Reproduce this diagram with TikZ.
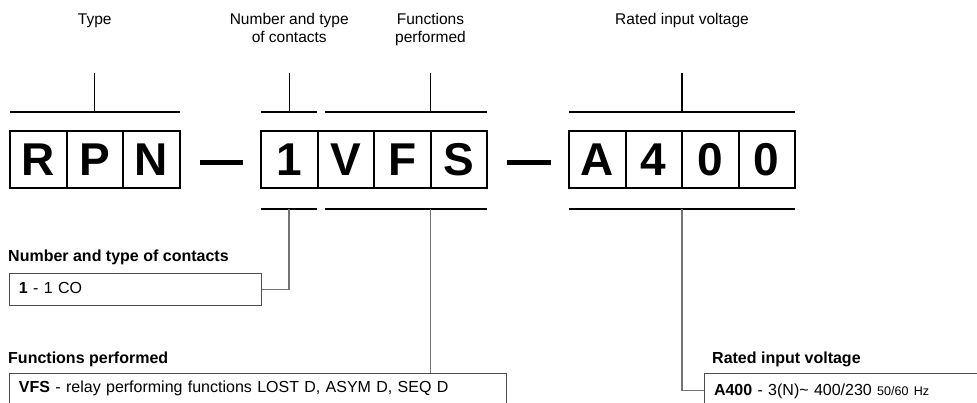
\documentclass[tikz,border=0pt]{standalone}
\usepackage{fontspec}
\setmainfont{Liberation Sans}
\begin{document}
\begin{tikzpicture}[x=1pt,y=-1pt,
  cell/.style={draw, line width=2pt, minimum width=56.5pt, minimum height=57pt, inner sep=0pt,
    font=\fontsize{46}{46}\selectfont\bfseries},
  toplbl/.style={font=\fontsize{15.5}{18}\selectfont, align=center, inner sep=0pt, anchor=base},
  hdr/.style={font=\fontsize{16}{19}\selectfont\bfseries, anchor=base west, inner sep=0pt},
  tbox/.style={draw=black!70, line width=1pt, anchor=north west, inner xsep=9.5pt, inner ysep=0pt,
    align=left, font=\fontsize{16}{19}\selectfont},
  thinline/.style={line width=1.3pt},
  thickline/.style={line width=2.2pt},
  dashline/.style={line width=5pt},
  conn/.style={draw=black!55, line width=1.6pt}]
\clip (0,0) rectangle (977,403);

% letter cells
\node[cell] (R) at (38.25,159.5) {R};
\node[cell] (P) at (94.75,159.5) {P};
\node[cell] (N) at (151.25,159.5) {N};
\node[cell] (c1) at (289.25,159.5) {1};
\node[cell] (V) at (345.75,159.5) {V};
\node[cell] (F) at (402.25,159.5) {F};
\node[cell] (S) at (458.75,159.5) {S};
\node[cell] (A) at (597.25,159.5) {A};
\node[cell] (c4) at (653.75,159.5) {4};
\node[cell] (c0a) at (710.25,159.5) {0};
\node[cell] (c0b) at (766.75,159.5) {0};

% dashes
\coordinate (d1a) at (200,163); \coordinate (d1b) at (243,163);
\coordinate (d2a) at (507,163); \coordinate (d2b) at (551,163);
\draw[dashline] (d1a) -- (d1b);
\draw[dashline] (d2a) -- (d2b);

% top labels
\node[toplbl] (lType) at (94.75,25) {Type};
\node[toplbl] (lNum) at (289.25,43) {Number and type\\of contacts};
\node[toplbl] (lFun) at (430.5,43) {Functions\\performed};
\node[toplbl] (lRat) at (682,25) {Rated input voltage};

% top brackets
\coordinate (tRa) at (10,112);   \coordinate (tRb) at (179.5,112);
\coordinate (t1a) at (261,112);  \coordinate (t1b) at (317,112);
\coordinate (tVa) at (325,112);  \coordinate (tVb) at (487,112);
\coordinate (tAa) at (569,112);  \coordinate (tAb) at (795,112);
\coordinate (kR) at (94.75,112); \coordinate (kRt) at (94.75,73);
\coordinate (k1) at (289.25,112); \coordinate (k1t) at (289.25,73);
\coordinate (kV) at (430.5,112); \coordinate (kVt) at (430.5,73);
\coordinate (kA) at (682,112); \coordinate (kAt) at (682,73);
\draw[thinline] (tRa) -- (tRb);
\draw[thinline] (t1a) -- (t1b);
\draw[thinline] (tVa) -- (tVb);
\draw[thinline] (tAa) -- (tAb);
\draw[thinline] (kR) -- (kRt);
\draw[thinline] (k1) -- (k1t);
\draw[thinline] (kV) -- (kVt);
\draw[thinline] (kA) -- (kAt);

% bottom brackets
\coordinate (b1a) at (261,209);  \coordinate (b1b) at (317,209);
\coordinate (bVa) at (325,209);  \coordinate (bVb) at (487,209);
\coordinate (bAa) at (569,209);  \coordinate (bAb) at (795,209);
\coordinate (m1) at (289.25,209);
\coordinate (mV) at (430.5,209);
\coordinate (mA) at (682,209);
\draw[thickline] (b1a) -- (b1b);
\draw[thickline] (bVa) -- (bVb);
\draw[thickline] (bAa) -- (bAb);

% headers
\node[hdr] (h1) at (8,262) {Number and type of contacts};
\node[hdr] (h2) at (8,363) {Functions performed};
\node[hdr] (h3) at (712,363) {Rated input voltage};

% text boxes
\node[tbox, text width=233pt, text height=20pt, text depth=12pt] (bx1) at (9,273) {\textbf{1} - 1 CO};
\node[tbox, text width=478pt, text height=19pt, text depth=13pt] (bx2) at (9,373)
  {\textbf{VFS} - relay performing functions LOST D, ASYM D, SEQ D};
\node[tbox, text width=260pt, text height=22pt, text depth=12pt] (bx3) at (704,373)
  {\textbf{A400} - 3(N)\textasciitilde{} 400/230 {\fontsize{12.5}{14}\selectfont 50/60 Hz}};

% connectors
\draw[conn] (bx1.east) -| (m1);
\draw[conn] (mV) -- (mV |- bx2.north);
\draw[conn] (mA) |- (bx3.west);
\end{tikzpicture}
\end{document}
